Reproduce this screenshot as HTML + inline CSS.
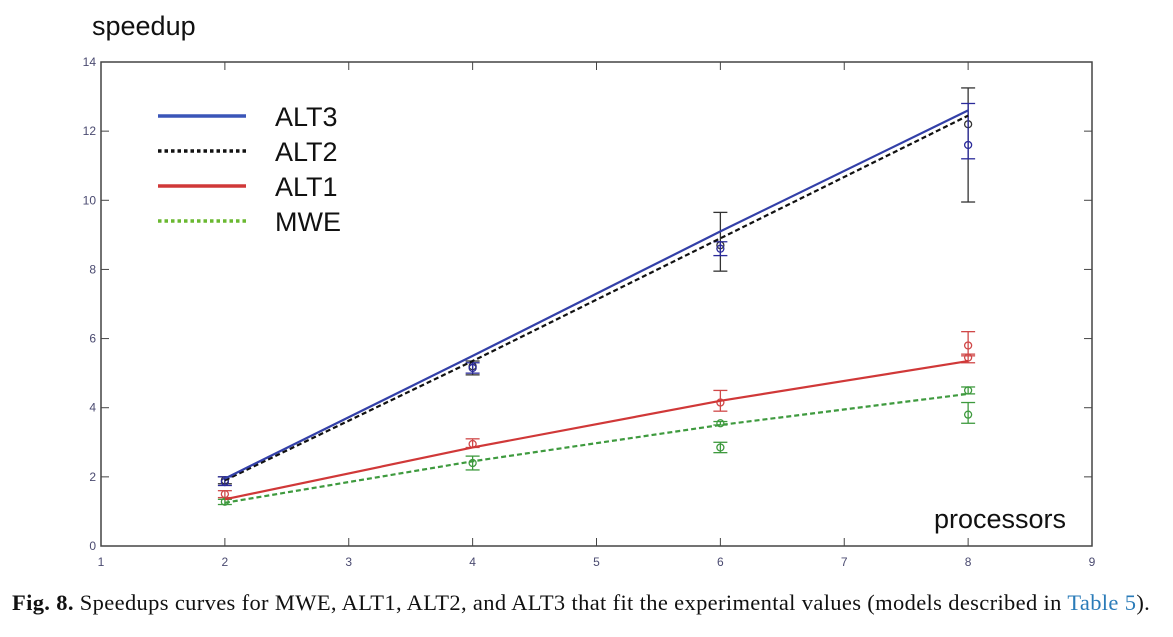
<!DOCTYPE html>
<html><head><meta charset="utf-8"><style>
body{margin:0;background:#fff;width:1173px;height:637px;overflow:hidden;font-family:"Liberation Sans",sans-serif}
svg{position:absolute;left:0;top:0}
#cap{position:absolute;left:12px;top:590px;width:1160px;white-space:nowrap;font-family:"Liberation Serif",serif;font-size:22.5px;letter-spacing:0.35px;color:#111}
#cap a{color:#2a7bb8;text-decoration:none}
</style></head><body>
<svg id="chart" width="1173" height="637"></svg>
<div id="cap"><b>Fig. 8.</b> Speedups curves for MWE, ALT1, ALT2, and ALT3 that fit the experimental values (models described in <a>Table 5</a>).</div>
<script>
const xTicks=[1,2,3,4,5,6,7,8,9];
const yTicks=[0,2,4,6,8,10,12,14];
const procs=[2,4,6,8];
const alt3=[1.95,5.5,9.1,12.6];
const alt2=[1.9,5.35,8.9,12.45];
const alt1=[1.35,2.85,4.2,5.35];
const mwe=[1.25,2.45,3.5,4.4];
// error bars: [x, mean, low, high]
const errAlt3=[[2,1.85,1.75,2.0],[4,5.15,5.0,5.3],[6,8.6,8.4,8.8],[8,11.6,11.2,12.8]];
const errAlt2=[[2,1.9,1.8,2.0],[4,5.2,4.95,5.35],[6,8.7,7.95,9.65],[8,12.2,9.95,13.25]];
const errAlt1=[[2,1.5,1.4,1.6],[4,2.95,2.85,3.1],[6,4.15,3.9,4.5],[8,5.45,5.3,5.55],[8,5.8,5.5,6.2]];
const errMwe=[[2,1.28,1.2,1.35],[4,2.4,2.2,2.6],[6,3.55,3.5,3.6],[6,2.85,2.7,3.0],[8,4.5,4.4,4.6],[8,3.8,3.55,4.15]];
const X=v=>101+(v-1)*(1092-101)/8, Y=v=>546-v*(546-62)/14;
const svg=document.getElementById('chart'),NS='http://www.w3.org/2000/svg';
function mk(t,a,p){const e=document.createElementNS(NS,t);for(const k in a)e.setAttribute(k,a[k]);(p||svg).appendChild(e);return e;}
let e=mk('rect',{x:101,y:62,width:991,height:484,fill:'none',stroke:'#444','stroke-width':1.5});


xTicks.forEach(t=>{
 mk('line',{x1:X(t),x2:X(t),y1:546,y2:538,stroke:'#444'});mk('line',{x1:X(t),x2:X(t),y1:62,y2:70,stroke:'#444'});
 const tx=mk('text',{x:X(t),y:566,'font-size':12,fill:'#4a4a70','text-anchor':'middle'});tx.textContent=t;
 
 
});
yTicks.forEach(t=>{
 mk('line',{x1:101,x2:109,y1:Y(t),y2:Y(t),stroke:'#444'});mk('line',{x1:1092,x2:1084,y1:Y(t),y2:Y(t),stroke:'#444'});
 const tx=mk('text',{x:96,y:Y(t)+4,'font-size':12,fill:'#4a4a70','text-anchor':'end'});tx.textContent=t;
 
 
});
function errs(arr,col,name){arr.forEach(d=>{const g=mk('g',{stroke:col,'stroke-width':1.3,fill:'none'});
 
 
 const x=X(d[0]);mk('line',{x1:x,x2:x,y1:Y(d[2]),y2:Y(d[3])},g);
 mk('line',{x1:x-7,x2:x+7,y1:Y(d[2]),y2:Y(d[2])},g);mk('line',{x1:x-7,x2:x+7,y1:Y(d[3]),y2:Y(d[3])},g);
 mk('circle',{cx:x,cy:Y(d[1]),r:3.5},g);});}
errs(errAlt2,'#333','alt2');errs(errAlt3,'#2a2a9a','alt3');errs(errAlt1,'#d04848','alt1');errs(errMwe,'#3e9a3e','mwe');
function line(vals,col,dash,name){const p=mk('polyline',{points:procs.map((x,i)=>X(x)+','+Y(vals[i])).join(' '),fill:'none',stroke:col,'stroke-width':2.2,'stroke-dasharray':dash});
 
 }
line(mwe,'#3e9a3e','5,3','mwe');line(alt1,'#d03838','','alt1');line(alt2,'#111','5,3','alt2');line(alt3,'#3340a8','','alt3');
const leg=[['ALT3','#3a55b8',''],['ALT2','#111','3.5,3'],['ALT1','#d03838',''],['MWE','#6ab830','3.5,3']];
leg.forEach((l,i)=>{const y=116+i*35;const g=mk('g',{});
 
 
 mk('line',{x1:158,x2:246,y1:y,y2:y,stroke:l[1],'stroke-width':3.5,'stroke-dasharray':l[2]},g);
 const t=mk('text',{x:275,y:y+10,'font-size':27,fill:'#111'},g);t.textContent=l[0];});
let t=mk('text',{x:92,y:35,'font-size':27,fill:'#111'});t.textContent='speedup';


t=mk('text',{x:934,y:528,'font-size':27,fill:'#111'});t.textContent='processors';


</script>
</body></html>
